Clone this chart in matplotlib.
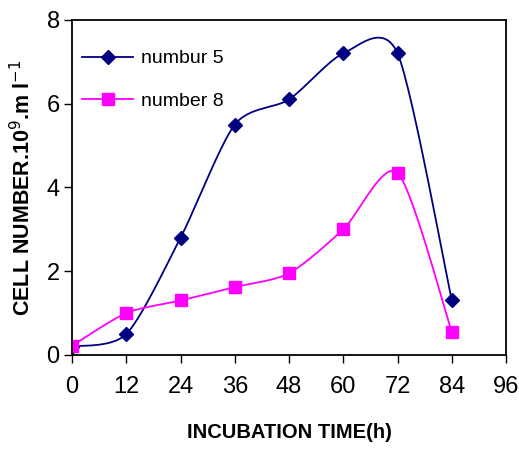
import numpy as np
import matplotlib.pyplot as plt

hours = [0, 12, 24, 36, 48, 60, 72, 84]
numbur_5 = [0.2, 0.5, 2.8, 5.5, 6.1, 7.2, 7.2, 1.3]
number_8 = [0.22, 1.0, 1.3, 1.62, 1.95, 3.0, 4.35, 0.55]


def smooth(x, y, k=0.13, n=30):
    # excel style smoothed line: cubic bezier with catmull-rom control points
    x = np.asarray(x, float)
    y = np.asarray(y, float)
    px, py = [], []
    for i in range(len(x) - 1):
        i0 = max(i - 1, 0)
        i3 = min(i + 2, len(x) - 1)
        c1x = x[i] + (x[i + 1] - x[i0]) * k
        c1y = y[i] + (y[i + 1] - y[i0]) * k
        c2x = x[i + 1] - (x[i3] - x[i]) * k
        c2y = y[i + 1] - (y[i3] - y[i]) * k
        t = np.linspace(0, 1, n)
        bx = (1 - t) ** 3 * x[i] + 3 * (1 - t) ** 2 * t * c1x + 3 * (1 - t) * t ** 2 * c2x + t ** 3 * x[i + 1]
        by = (1 - t) ** 3 * y[i] + 3 * (1 - t) ** 2 * t * c1y + 3 * (1 - t) * t ** 2 * c2y + t ** 3 * y[i + 1]
        px.extend(bx)
        py.extend(by)
    return px, py


plt.rcParams['font.family'] = ['Liberation Sans', 'DejaVu Sans']

fig = plt.figure(figsize=(5.19, 4.51), dpi=100)
ax = fig.add_axes([0.139, 0.213, 0.836, 0.743])

navy = '#000080'
magenta = '#FF00FF'

sx, sy = smooth(hours, numbur_5)
ax.plot(sx, sy, color=navy, lw=1.3)
ax.plot(hours, numbur_5, ls='none', marker='D', ms=7, color=navy)
ax.plot([], [], color=navy, lw=1.3, marker='D', ms=7, label='numbur 5')

sx, sy = smooth(hours, number_8)
ax.plot(sx, sy, color=magenta, lw=1.3)
ax.plot(hours, number_8, ls='none', marker='s', ms=8, color=magenta)
ax.plot([], [], color=magenta, lw=1.3, marker='s', ms=8, label='number 8')

ax.set_xlim(0, 96)
ax.set_ylim(0, 8)
ax.set_xticks(range(0, 97, 12))
ax.set_yticks(range(0, 9, 2))
ax.tick_params(labelsize=17, direction='out', length=6, width=1, pad=9)
ax.tick_params(axis='y', pad=3)
for s in ax.spines.values():
    s.set_linewidth(1.3)

ax.set_xlabel('INCUBATION TIME(h)', fontsize=14.5, fontweight='bold', labelpad=18)
ax.set_ylabel('CELL NUMBER.10$^{9}$.m l$^{-1}$', fontsize=15.5, fontweight='bold', labelpad=8)

ax.legend(loc='upper left', bbox_to_anchor=(0.01, 0.928), frameon=False, fontsize=14,
          handlelength=2.6, labelspacing=1.3, borderaxespad=0, borderpad=0.3,
          handletextpad=0.4)

fig.savefig('out.png', dpi=100)
